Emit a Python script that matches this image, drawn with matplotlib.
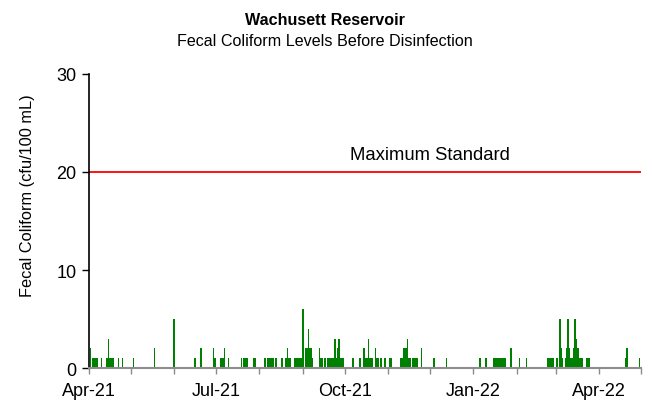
import pandas as pd
import matplotlib.pyplot as plt
import matplotlib.dates as mdates

plt.rcParams['font.family'] = ['Liberation Sans', 'DejaVu Sans']

# sampling days, counted from 1 April 2021
start_date = "2021-04-01"
sample_day = [1, 3, 4, 5, 6, 9, 13, 14, 15, 16, 17, 21, 24, 32, 47, 61, 76, 80,
              89, 90, 94, 95, 96, 97, 100, 109, 111, 112, 113, 118, 119, 126,
              128, 129, 130, 131, 132, 134, 138, 141, 142, 143, 144,
              147, 148, 149, 150, 151, 152, 153, 155, 156, 157, 158, 159, 160,
              165, 166, 167, 169, 171, 172, 173, 174, 175,
              176, 177, 178, 179, 180, 181, 182, 189, 194,
              197, 198, 199, 200, 201, 202, 203, 205, 206, 207, 209, 212, 215, 216,
              223, 224, 225, 226, 227, 228, 229, 230, 232, 233, 234, 235,
              238, 247, 256, 280, 284,
              290, 291, 292, 293, 294, 295, 296, 297, 298, 302, 308, 313,
              328, 329, 330, 331, 332, 335, 337, 338, 339,
              341, 342, 343, 344, 345, 346, 347, 348, 349, 350, 351, 352, 353,
              356, 357, 358, 384, 385, 394]
fecal_coliform = [2, 1, 1, 1, 1, 1, 1, 3, 1, 1, 1, 1, 1, 1, 2, 5, 1, 2,
                  2, 1, 1, 1, 1, 2, 1, 1, 1, 1, 1, 1, 1, 1,
                  1, 1, 1, 1, 1, 1, 1, 1, 2, 1, 1,
                  1, 1, 1, 1, 1, 1, 6, 2, 2, 4, 2, 2, 1,
                  2, 1, 1, 1, 1, 1, 1, 1, 1,
                  3, 1, 2, 3, 1, 1, 1, 1, 1,
                  2, 1, 1, 3, 1, 1, 1, 2, 1, 1, 1, 1, 1, 1,
                  1, 1, 2, 2, 2, 3, 1, 1, 1, 1, 1, 1,
                  2, 1, 1, 1, 1,
                  1, 1, 1, 1, 1, 1, 1, 1, 1, 2, 1, 1,
                  1, 1, 1, 1, 1, 1, 5, 2, 1,
                  1, 2, 5, 2, 1, 1, 2, 5, 3, 2, 1, 1, 1,
                  1, 1, 1, 1, 2, 1]
max_standard = 20

dates = pd.Timestamp(start_date) + pd.to_timedelta(sample_day, unit="D")

fig = plt.figure(figsize=(6.52, 4.02), dpi=100)
ax = fig.add_axes([0.1365, 0.082, 0.8465, 0.7315])

ax.bar(dates, fecal_coliform, width=1.1, color="#008000", linewidth=0)
ax.axhline(max_standard, color="#ff0000", linewidth=1.3)
ax.text(pd.Timestamp("2021-12-01"), 21.8, "Maximum Standard",
        ha="center", va="center", fontsize=13.3)

ax.set_xlim(pd.Timestamp("2021-04-01"), pd.Timestamp("2022-05-01"))
ax.set_ylim(0, 30)
ax.set_yticks([0, 10, 20, 30])
ax.xaxis.set_major_locator(mdates.MonthLocator(bymonth=[1, 4, 7, 10]))
ax.xaxis.set_minor_locator(mdates.MonthLocator())
ax.xaxis.set_major_formatter(mdates.DateFormatter("%b-%y"))

ax.spines["top"].set_visible(False)
ax.spines["right"].set_visible(False)
ax.spines["left"].set_linewidth(1.2)
ax.spines["bottom"].set_color("#8c8c8c")
ax.spines["bottom"].set_linewidth(1.5)
ax.tick_params(axis="y", labelsize=13, length=5, width=1, pad=4)
ax.tick_params(axis="x", which="both", labelsize=13, length=4, width=1,
               color="#8c8c8c", pad=6)
ax.set_ylabel("Fecal Coliform (cfu/100 mL)", fontsize=11.8)
ax.yaxis.set_label_coords(-0.098, 0.59)

fig.text(0.498, 0.949, "Wachusett Reservoir", ha="center", va="center",
         fontsize=11.6, fontweight="bold")
fig.text(0.498, 0.897, "Fecal Coliform Levels Before Disinfection",
         ha="center", va="center", fontsize=11.6)

fig.savefig("out.png", dpi=100)
